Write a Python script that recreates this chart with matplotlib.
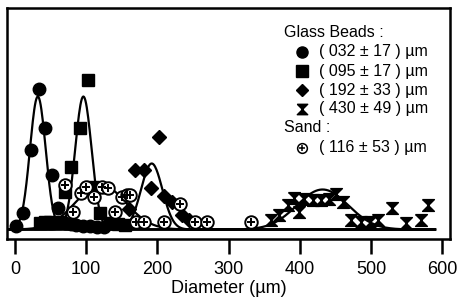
import numpy as np
import matplotlib
matplotlib.use("Agg")
import matplotlib.pyplot as plt

plt.rcParams['font.family'] = ['Liberation Sans', 'DejaVu Sans']

# glass beads, ( 032 +- 17 ) um
circle_x = [1, 11, 22, 33, 42, 52, 61, 70, 78, 86, 95, 105, 115, 125]
circle_y = [4, 17, 80, 141, 102, 55, 22, 7, 6, 5, 4, 4, 3, 3]

# glass beads, ( 095 +- 17 ) um
square_x = [35, 42, 49, 56, 63, 70, 78, 91, 102, 110, 120, 134, 145, 155]
square_y = [7, 8, 8, 7, 8, 38, 63, 102, 150, 43, 17, 7, 6, 5]

# glass beads, ( 192 +- 33 ) um
diamond_x = [160, 169, 181, 191, 202, 209, 221, 235, 244]
diamond_y = [21, 60, 60, 42, 93, 34, 28, 15, 10]

# glass beads, ( 430 +- 49 ) um
hourglass_x = [359, 371, 383, 392, 399, 406, 418, 430, 441, 451, 460, 472, 486, 498, 510, 530, 549, 570, 580]
hourglass_y = [10, 15, 25, 32, 18, 31, 30, 30, 31, 36, 28, 10, 8, 8, 10, 22, 7, 10, 25]

# sand, ( 116 +- 53 ) um
sand_x = [70, 82, 92, 100, 111, 122, 131, 141, 150, 157, 162, 170, 181, 209, 232, 253, 270, 331]
sand_y = [45, 18, 37, 43, 33, 43, 42, 18, 33, 35, 35, 8, 8, 8, 26, 8, 8, 8]

# fitted curves (center, width, height)
fit_center = [32, 96, 192, 432, 120]
fit_sigma = [11, 11.5, 15, 36, 35]
fit_height = [133, 133, 66, 40, 45]

legend_labels = ["( 032 \u00b1 17 ) \u00b5m", "( 095 \u00b1 17 ) \u00b5m",
                 "( 192 \u00b1 33 ) \u00b5m", "( 430 \u00b1 49 ) \u00b5m"]
sand_label = "( 116 \u00b1 53 ) \u00b5m"

hourglass = [(-1, 1), (1, 1), (-1, -1), (1, -1), (-1, 1)]

fig = plt.figure(figsize=(4.57, 3.04), dpi=100)
ax = fig.add_axes([7 / 457, 1 - 239 / 304, 443 / 457, 231 / 304])

xs = np.linspace(-8, 590, 600)
for c, s, h in zip(fit_center, fit_sigma, fit_height):
    ax.plot(xs, h * np.exp(-(xs - c) ** 2 / (2 * s ** 2)), color='black', lw=1.6, zorder=2)

ax.plot(circle_x, circle_y, 'o', ms=9, color='black', ls='none', zorder=3)
ax.plot(square_x, square_y, 's', ms=8.5, color='black', ls='none', zorder=3)
ax.plot(diamond_x, diamond_y, 'D', ms=7.5, color='black', ls='none', zorder=3)
ax.plot(hourglass_x, hourglass_y, marker=hourglass, ms=8.5, color='black', ls='none', zorder=3)
ax.plot(sand_x, sand_y, 'o', ms=9, mfc='white', mec='black', mew=1.4, ls='none', zorder=4)
ax.plot(sand_x, sand_y, '+', ms=5.5, color='black', mew=1.4, ls='none', zorder=5)

ax.set_xlim(-11.3, 611)
ax.set_ylim(-9.5, 221.5)
ax.set_xticks([0, 100, 200, 300, 400, 500, 600])
ax.set_yticks([])
ax.tick_params(axis='x', direction='out', length=11, width=1.8, pad=5, labelsize=13)
for sp in ax.spines.values():
    sp.set_linewidth(1.8)
ax.set_xlabel("Diameter (\u00b5m)", fontsize=13, labelpad=1)

# legend drawn by hand
tx, mx, hx = 0.704, 0.666, 0.625
ax.text(hx, 0.896, "Glass Beads :", transform=ax.transAxes, fontsize=11.5, va='center')
rows = [0.810, 0.727, 0.645, 0.563]
marks = [dict(marker='o', ms=8), dict(marker='s', ms=8), dict(marker='D', ms=6.5), dict(marker=hourglass, ms=7.5)]
for yy, lab, mk in zip(rows, legend_labels, marks):
    ax.plot([mx], [yy], transform=ax.transAxes, color='black', ls='none', clip_on=False, **mk)
    ax.text(tx, yy, lab, transform=ax.transAxes, fontsize=11.5, va='center')
ax.text(hx, 0.481, "Sand :", transform=ax.transAxes, fontsize=11.5, va='center')
ax.plot([mx], [0.394], 'o', ms=7, mfc='white', mec='black', mew=1.1, transform=ax.transAxes)
ax.plot([mx], [0.394], '+', ms=4.5, color='black', mew=1.1, transform=ax.transAxes)
ax.text(tx, 0.394, sand_label, transform=ax.transAxes, fontsize=11.5, va='center')

fig.savefig("out.png", dpi=100)
